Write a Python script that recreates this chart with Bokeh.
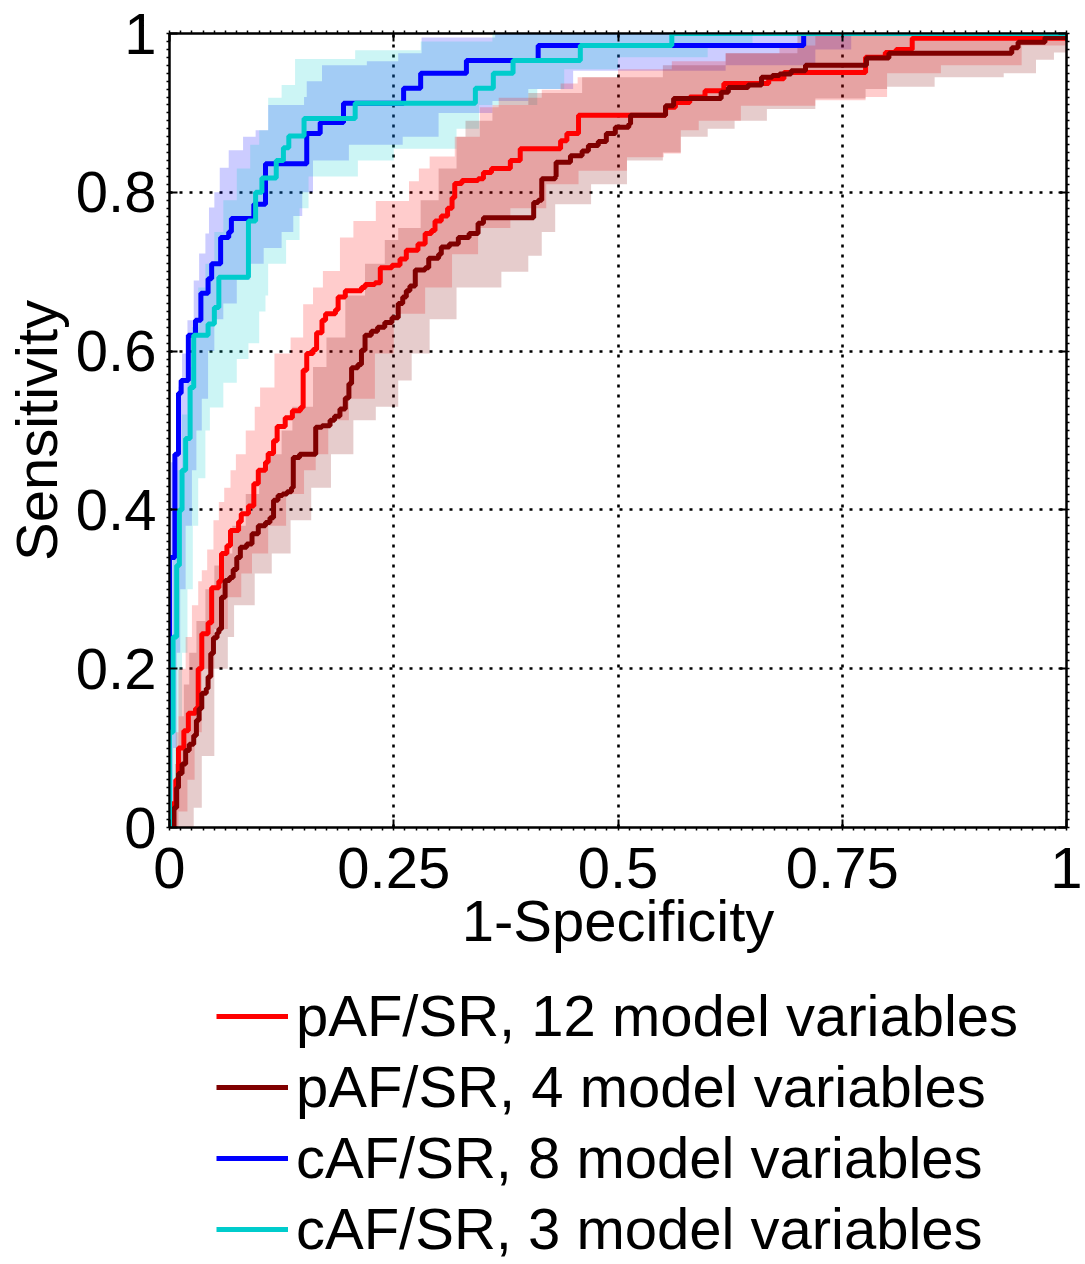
from bokeh.plotting import figure
from bokeh.models import (Legend, LegendItem, LinearAxis, FixedTicker, Range1d)
from bokeh.layouts import column
from bokeh.embed import file_html
from bokeh.resources import INLINE

# ---------------- data (ROC staircases: x = 1-specificity where the curve rises, y = new level) ----
red_x = [0.0, 0.003, 0.007, 0.010, 0.016, 0.021, 0.029, 0.032, 0.036, 0.043, 0.047, 0.055, 0.058, 0.064,
         0.068, 0.077, 0.080, 0.088, 0.094, 0.099, 0.107, 0.110, 0.116, 0.120, 0.129, 0.137, 0.146, 0.149,
         0.153, 0.160, 0.164, 0.170, 0.174, 0.185, 0.188, 0.196, 0.214, 0.218, 0.229, 0.235, 0.248, 0.257,
         0.264, 0.277, 0.285, 0.292, 0.296, 0.303, 0.310, 0.315, 0.318, 0.326, 0.344, 0.350, 0.359, 0.380,
         0.391, 0.436, 0.443, 0.456, 0.553, 0.564, 0.580, 0.597, 0.618, 0.668, 0.685, 0.776, 0.798, 0.810,
         0.828, 1.0]
red_y = [0.0, 0.03, 0.06, 0.10, 0.122, 0.144, 0.150, 0.20, 0.244, 0.258, 0.302, 0.31, 0.345, 0.355,
         0.374, 0.385, 0.395, 0.405, 0.433, 0.45, 0.46, 0.471, 0.487, 0.505, 0.516, 0.525, 0.529, 0.576,
         0.597, 0.602, 0.623, 0.639, 0.647, 0.652, 0.668, 0.676, 0.680, 0.684, 0.686, 0.705, 0.708, 0.716,
         0.727, 0.735, 0.748, 0.752, 0.764, 0.770, 0.78, 0.793, 0.811, 0.815, 0.817, 0.825, 0.830, 0.840,
         0.855, 0.865, 0.874, 0.897, 0.907, 0.913, 0.920, 0.928, 0.937, 0.943, 0.951, 0.970, 0.976, 0.980,
         0.994, 1.0]

dred_x = [0.0, 0.005, 0.008, 0.010, 0.014, 0.018, 0.022, 0.027, 0.030, 0.033, 0.036, 0.041, 0.043, 0.046,
          0.049, 0.053, 0.055, 0.058, 0.062, 0.067, 0.071, 0.075, 0.079, 0.086, 0.092, 0.099, 0.107, 0.112,
          0.116, 0.121, 0.126, 0.131, 0.136, 0.138, 0.145, 0.163, 0.170, 0.179, 0.184, 0.190, 0.196, 0.200,
          0.203, 0.210, 0.214, 0.218, 0.225, 0.232, 0.240, 0.248, 0.255, 0.260, 0.264, 0.268, 0.274, 0.285,
          0.289, 0.300, 0.303, 0.312, 0.322, 0.334, 0.344, 0.350, 0.406, 0.411, 0.415, 0.430, 0.431, 0.447,
          0.460, 0.467, 0.478, 0.487, 0.497, 0.512, 0.514, 0.553, 0.562, 0.615, 0.623, 0.645, 0.660, 0.672,
          0.680, 0.693, 0.709, 0.777, 0.802, 0.939, 0.946, 0.976, 1.0]
dred_y = [0.0, 0.025, 0.05, 0.068, 0.08, 0.097, 0.105, 0.116, 0.135, 0.15, 0.169, 0.175, 0.19, 0.219,
          0.239, 0.245, 0.25, 0.290, 0.311, 0.315, 0.325, 0.340, 0.353, 0.357, 0.370, 0.380, 0.384, 0.39,
          0.412, 0.418, 0.42, 0.423, 0.428, 0.466, 0.47, 0.504, 0.506, 0.513, 0.518, 0.527, 0.541, 0.559,
          0.579, 0.583, 0.601, 0.620, 0.625, 0.630, 0.636, 0.642, 0.660, 0.668, 0.676, 0.682, 0.702, 0.705,
          0.717, 0.722, 0.731, 0.735, 0.743, 0.748, 0.761, 0.768, 0.787, 0.790, 0.817, 0.820, 0.838, 0.846,
          0.852, 0.859, 0.864, 0.874, 0.882, 0.886, 0.897, 0.909, 0.918, 0.926, 0.932, 0.935, 0.945, 0.947,
          0.949, 0.953, 0.960, 0.969, 0.975, 0.982, 0.989, 0.995, 1.0]

blue_x = [0.0, 0.0, 0.006, 0.010, 0.013, 0.021, 0.029, 0.035, 0.043, 0.047, 0.057, 0.066, 0.069, 0.094,
          0.107, 0.153, 0.168, 0.194, 0.261, 0.280, 0.331, 0.411, 0.707, 1.0]
blue_y = [0.0, 0.34, 0.47, 0.547, 0.563, 0.620, 0.639, 0.673, 0.691, 0.710, 0.743, 0.750, 0.767, 0.785,
          0.836, 0.874, 0.888, 0.912, 0.931, 0.950, 0.966, 0.985, 1.0, 1.0]

cyan_x = [0.0, 0.0, 0.004, 0.008, 0.011, 0.014, 0.018, 0.023, 0.027, 0.043, 0.050, 0.055, 0.088, 0.096,
          0.103, 0.119, 0.127, 0.133, 0.150, 0.207, 0.341, 0.361, 0.383, 0.458, 0.560, 1.0]
cyan_y = [0.0, 0.12, 0.24, 0.33, 0.40, 0.45, 0.49, 0.554, 0.620, 0.634, 0.655, 0.693, 0.764, 0.80,
          0.818, 0.840, 0.856, 0.871, 0.893, 0.912, 0.931, 0.950, 0.966, 0.985, 1.0, 1.0]

# ---------------- confidence bands (upper and lower staircase edges) ----------------
red_hi_x = [0.0, 0.004, 0.007, 0.010, 0.018, 0.025, 0.032, 0.036, 0.042, 0.049, 0.055, 0.061, 0.068, 0.074,
            0.085, 0.095, 0.101, 0.117, 0.135, 0.149, 0.160, 0.171, 0.190, 0.205, 0.230, 0.267, 0.278, 0.290,
            0.318, 0.346, 0.367, 0.415, 0.436, 0.455, 0.500, 0.560, 0.620, 0.680, 0.720, 1.0]
red_hi_y = [0.02, 0.05, 0.12, 0.20, 0.24, 0.28, 0.31, 0.324, 0.35, 0.387, 0.41, 0.428, 0.45, 0.47,
            0.50, 0.530, 0.554, 0.597, 0.617, 0.659, 0.68, 0.701, 0.743, 0.764, 0.789, 0.814, 0.83, 0.845,
            0.87, 0.907, 0.919, 0.929, 0.937, 0.945, 0.955, 0.965, 0.975, 0.985, 1.0, 1.0]
red_lo_x = [0.0, 0.010, 0.020, 0.028, 0.036, 0.050, 0.065, 0.080, 0.092, 0.110, 0.130, 0.150, 0.163, 0.177,
            0.200, 0.229, 0.250, 0.285, 0.315, 0.344, 0.380, 0.420, 0.456, 0.510, 0.551, 0.570, 0.590, 0.637,
            0.720, 0.776, 0.800, 0.860, 0.950, 1.0]
red_lo_y = [0.0, 0.02, 0.06, 0.12, 0.20, 0.25, 0.29, 0.32, 0.345, 0.38, 0.42, 0.45, 0.47, 0.513,
            0.54, 0.597, 0.647, 0.680, 0.722, 0.755, 0.78, 0.81, 0.827, 0.844, 0.849, 0.878, 0.89, 0.909,
            0.916, 0.92, 0.95, 0.96, 0.985, 1.0]

dred_hi_x = [0.0, 0.006, 0.010, 0.016, 0.022, 0.030, 0.040, 0.050, 0.057, 0.070, 0.085, 0.100, 0.110, 0.125,
             0.137, 0.160, 0.175, 0.196, 0.218, 0.240, 0.255, 0.280, 0.300, 0.320, 0.330, 0.360, 0.400, 0.460,
             0.550, 0.620, 0.700, 1.0]
dred_hi_y = [0.03, 0.08, 0.14, 0.18, 0.22, 0.26, 0.30, 0.33, 0.345, 0.38, 0.42, 0.45, 0.47, 0.50,
             0.53, 0.58, 0.617, 0.67, 0.71, 0.74, 0.755, 0.79, 0.83, 0.87, 0.89, 0.91, 0.925, 0.945,
             0.96, 0.975, 1.0, 1.0]
dred_lo_x = [0.0, 0.027, 0.036, 0.050, 0.065, 0.072, 0.095, 0.114, 0.135, 0.158, 0.180, 0.205, 0.230, 0.255,
             0.270, 0.290, 0.320, 0.370, 0.400, 0.415, 0.430, 0.470, 0.510, 0.550, 0.570, 0.600, 0.630, 0.666,
             0.720, 0.776, 0.800, 0.853, 0.930, 0.966, 0.986, 1.0]
dred_lo_y = [0.0, 0.025, 0.09, 0.20, 0.24, 0.28, 0.32, 0.345, 0.387, 0.428, 0.47, 0.513, 0.53, 0.563,
             0.597, 0.64, 0.68, 0.70, 0.72, 0.75, 0.785, 0.81, 0.84, 0.85, 0.87, 0.88, 0.89, 0.905,
             0.918, 0.93, 0.933, 0.945, 0.95, 0.967, 0.976, 1.0]

blue_hi_x = [0.0, 0.008, 0.010, 0.014, 0.020, 0.027, 0.033, 0.040, 0.044, 0.050, 0.056, 0.066, 0.082, 0.096,
             0.110, 0.150, 0.153, 0.170, 0.220, 0.255, 0.281, 0.363, 1.0]
blue_hi_y = [0.46, 0.49, 0.555, 0.597, 0.639, 0.689, 0.723, 0.748, 0.781, 0.80, 0.831, 0.853, 0.87, 0.878,
             0.91, 0.92, 0.94, 0.96, 0.965, 0.975, 0.995, 1.0, 1.0]
blue_lo_x = [0.0, 0.004, 0.008, 0.012, 0.018, 0.025, 0.030, 0.036, 0.043, 0.050, 0.060, 0.075, 0.090, 0.105,
             0.125, 0.138, 0.148, 0.160, 0.200, 0.260, 0.300, 0.360, 0.400, 0.450, 0.620, 0.720, 0.760, 1.0]
blue_lo_y = [0.0, 0.10, 0.22, 0.30, 0.38, 0.45, 0.50, 0.54, 0.60, 0.64, 0.66, 0.69, 0.71, 0.73,
             0.75, 0.77, 0.80, 0.84, 0.86, 0.87, 0.90, 0.915, 0.93, 0.953, 0.96, 0.98, 1.0, 1.0]

cyan_hi_x = [0.0, 0.004, 0.008, 0.014, 0.020, 0.025, 0.032, 0.040, 0.050, 0.060, 0.075, 0.090, 0.100, 0.110,
             0.125, 0.140, 0.207, 0.280, 0.360, 1.0]
cyan_hi_y = [0.22, 0.35, 0.45, 0.52, 0.58, 0.63, 0.68, 0.71, 0.75, 0.79, 0.83, 0.86, 0.878, 0.919,
             0.935, 0.968, 0.979, 0.99, 1.0, 1.0]
cyan_lo_x = [0.0, 0.006, 0.010, 0.014, 0.020, 0.026, 0.032, 0.040, 0.045, 0.060, 0.075, 0.088, 0.100, 0.107,
             0.110, 0.130, 0.145, 0.155, 0.210, 0.250, 0.320, 0.345, 0.410, 0.440, 0.500, 0.600, 0.650, 1.0]
cyan_lo_y = [0.0, 0.06, 0.14, 0.22, 0.30, 0.38, 0.44, 0.50, 0.529, 0.56, 0.59, 0.61, 0.65, 0.67,
             0.71, 0.74, 0.78, 0.82, 0.84, 0.855, 0.88, 0.91, 0.93, 0.955, 0.97, 0.985, 1.0, 1.0]

labels = ["pAF/SR, 12 model variables", "pAF/SR, 4 model variables",
          "cAF/SR, 8 model variables", "cAF/SR, 3 model variables"]
colors = ["#ff0000", "#800000", "#0000ff", "#00cccc"]

x_ticks = [0, 0.25, 0.5, 0.75, 1]
x_tick_labels = ["0", "0.25", "0.5", "0.75", "1"]
y_ticks = [0, 0.2, 0.4, 0.6, 0.8, 1]
y_tick_labels = ["0", "0.2", "0.4", "0.6", "0.8", "1"]

FONT = "Liberation Sans"
FS = "58px"
LEFT, RIGHT, FW = 163, 17, 897


def stairs(xs, ys):
    px, py = [], []
    for i in range(len(xs)):
        px.append(xs[i]); py.append(ys[i])
        if i + 1 < len(xs):
            px.append(xs[i + 1]); py.append(ys[i])
    return px, py


def band(hx, hy, lx, ly):
    ux, uy = stairs(hx, hy)
    bx, by = stairs(lx, ly)
    return ux + bx[::-1], uy + by[::-1]


p = figure(frame_width=FW, frame_height=794, x_range=Range1d(0, 1), y_range=Range1d(0, 1),
           output_backend="svg", toolbar_location=None,
           min_border_left=LEFT, min_border_top=33, min_border_right=RIGHT, min_border_bottom=140)
p.background_fill_color = "white"
p.border_fill_color = "white"
p.outline_line_color = "black"
p.outline_line_width = 2

# bands
bands = [(blue_hi_x, blue_hi_y, blue_lo_x, blue_lo_y, colors[2]),
         (cyan_hi_x, cyan_hi_y, cyan_lo_x, cyan_lo_y, colors[3]),
         (red_hi_x, red_hi_y, red_lo_x, red_lo_y, colors[0]),
         (dred_hi_x, dred_hi_y, dred_lo_x, dred_lo_y, colors[1])]
for hx, hy, lx, ly, c in bands:
    bx, by = band(hx, hy, lx, ly)
    p.patch(bx, by, fill_color=c, fill_alpha=0.2, line_color=None)

# curves
for xs, ys, c in [(red_x, red_y, colors[0]), (dred_x, dred_y, colors[1]),
                  (blue_x, blue_y, colors[2]), (cyan_x, cyan_y, colors[3])]:
    p.step(xs, ys, mode="after", line_color=c, line_width=5)

# grid
for g, t in ((p.xgrid, x_ticks), (p.ygrid, y_ticks)):
    g.ticker = FixedTicker(ticks=t)
    g.grid_line_color = "black"
    g.grid_line_dash = "3 7"
    g.grid_line_width = 2.6
    g.grid_line_alpha = 1.0


def style_axis(ax, ticks, labels_, show_labels):
    ax.ticker = FixedTicker(ticks=ticks, minor_ticks=[i / 80 for i in range(81)] if len(ticks) == 5
                            else [i / 100 for i in range(101)])
    ax.major_label_overrides = {t: l for t, l in zip(ticks, labels_)}
    ax.axis_line_width = 2
    ax.axis_line_color = "black"
    ax.major_tick_in = 8
    ax.major_tick_out = 0
    ax.major_tick_line_width = 2
    ax.minor_tick_in = 0
    ax.minor_tick_out = 3
    ax.minor_tick_line_width = 1.5
    ax.major_label_text_font = FONT
    ax.major_label_text_color = "black"
    if show_labels:
        ax.major_label_text_font_size = FS
        ax.major_label_standoff = 10
    else:
        ax.major_label_text_font_size = "1px"
        ax.major_label_text_alpha = 0
        ax.major_label_standoff = 0


xa = p.xaxis[0]
ya = p.yaxis[0]
style_axis(xa, x_ticks, x_tick_labels, True)
style_axis(ya, y_ticks, y_tick_labels, True)
xa.major_label_standoff = 17
xa.axis_label = "1-Specificity"
ya.axis_label = "Sensitivity"
for ax in (xa, ya):
    ax.axis_label_text_font = FONT
    ax.axis_label_text_font_size = FS
    ax.axis_label_text_font_style = "normal"
    ax.axis_label_text_color = "black"
xa.axis_label_standoff = -3
ya.axis_label_standoff = 4

top = LinearAxis()
right = LinearAxis()
style_axis(top, x_ticks, x_tick_labels, False)
style_axis(right, y_ticks, y_tick_labels, False)
p.add_layout(top, "above")
p.add_layout(right, "right")

# ---------------- legend panel below the axes ----------------
lg = figure(frame_width=FW, frame_height=295, x_range=Range1d(0, 1), y_range=Range1d(0, 1),
            output_backend="svg", toolbar_location=None,
            x_axis_location=None, y_axis_location=None,
            min_border_left=LEFT, min_border_right=RIGHT, min_border_top=0, min_border_bottom=0)
lg.outline_line_color = None
lg.grid.visible = False
lg.background_fill_color = "white"
lg.border_fill_color = "white"
items = []
nan = float("nan")
for lab, c in zip(labels, colors):
    r = lg.line([0, 1], [nan, nan], line_color=c, line_width=5)
    items.append(LegendItem(label=lab, renderers=[r]))

legend = Legend(items=items, location=(47, 0), orientation="vertical")
legend.label_text_font = FONT
legend.label_text_font_size = "58px"
legend.label_text_color = "black"
legend.glyph_width = 72
legend.glyph_height = 40
legend.label_standoff = 8
legend.spacing = 4
legend.padding = 0
legend.margin = 0
legend.border_line_color = None
legend.background_fill_alpha = 0
lg.add_layout(legend, "center")

open("out.html", "w").write(file_html(column(p, lg), INLINE))
